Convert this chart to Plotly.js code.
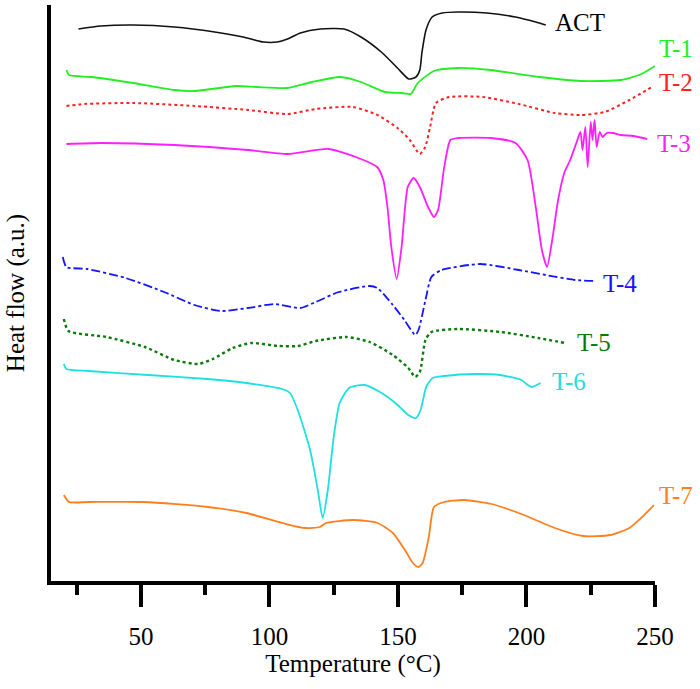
<!DOCTYPE html>
<html>
<head>
<meta charset="utf-8">
<script src="https://cdn.plot.ly/plotly-3.0.1.min.js"></script>
<style>html,body{margin:0;padding:0;background:#fff;}#chart{width:700px;height:689px;}</style>
</head>
<body>
<div id="chart"></div>
<script>
// DSC thermograms: temperature (°C) vs heat flow (a.u.), curves stacked vertically
const actT = [25.7,34.4,47,63,78.7,89.7,97.6,103,107,112,119.8,129,135.6,143.5,149.8,154.2,157,158.5,159.3,160.9,163.3,167.2,173.5,184.6,195.7,203.6,207.5];
const actH = [552,555,556,554,549,544,539,539,542,548,552,552,544,529,513,502,504,511,528,551,564,568,569,568,564,559,556];

const t1T = [21,22,31,47,63,71,87,95,107,116.6,127.7,135.6,145,151.4,155,157.7,164,173.5,186,205,221,236.8,244.7,250];
const t1H = [511,506,504,498,491,490,495,494,493,499,504,499,489,488,487,498,510,513,511,504,500,501,507,515];

const t2T = [21,28,47,71,91.7,107,118,132.4,142,149.8,154.6,158.5,160.6,162.5,164.8,170,183,197,211,221,230.4,240,249.4];
const t2H = [475,477,478,475,471,467,472,474,466,453,441,427,434,454,478,484,484,477,468,466,469,481,495];

const t3T = [21,34.4,63,91.7,107.1,123,135.6,141.9,144.3,145.9,147.4,149.5,151.4,153.8,156.1,158.5,161.7,164,165.6,168,170.4,173.5,186.2,195.7,200.4,203.6,206,208,210,212.3,214.7,217,219.4,221,221.8,222.9,223.8,225,225.7,226.5,227.3,228.5,229.6,231.2,233.6,236.8,241.5,247];
const t3H = [437,438,436,431,427,432,422,414,401,374,334,302,334,394,403,394,374,364,371,414,441,443,443,438,421,374,331,314,341,381,408,421,438,449,431,454,414,459,441,461,434,449,444,448,448,446,445,442];

const t4T = [19.6,21,29,44,59,70.8,81,91.6,102,112,118,127,139,142,148,152.5,156.7,158,160.7,163,167,182,197,207.5,219,226.8];
const t4H = [324,314,312,303,289,276,270,273,277,273,279,289,295,293,276,261,246,251,281,304,311,317,311,306,301,300];

const t5T = [20,21.8,36.6,51.5,63,72.3,78,85.7,93,103.5,111,118,130,139,148,154,156.7,158.5,160.7,163,173.4,190,204.5,215];
const t5H = [262,250,244,234,221,217,222,233,238,235,235,240,244,239,226,213,204,209,241,249,252,249,243,238];

const t6T = [20,21,29.6,52.7,75.8,91,105,108,111,115.8,118.8,120.7,122.7,125,127.3,131,137,143,149,154,157,158.8,161,163.5,168,180,189.6,198,200.5,202,204,205.5];
const t6H = [217,212,210,206,202,198,192,188,171,131,91,63,91,144,178,193,196,189,178,166,163,171,194,203,205,207,206,201,196,194,196,198];

const t7T = [20,22,29.6,51,76,91,106.5,114,119.6,122,132.7,142,148,152.7,155.8,158,159.6,162,164,168,175.8,186.5,199,211,222,232.7,240,245,249.6];
const t7H = [86,79,79,79,74,68,57,53,54,58,61,58,48,31,18,14,18,44,74,79,81,77,66,53,45,46,53,64,76];

const seriesNames = ['ACT','T-1','T-2','T-3','T-4','T-5','T-6','T-7'];
const xTickVals = [50,100,150,200,250];

// label anchor: [temperature, heat flow, pixel nudge to the right]
const curves = [
  {name:'ACT', x:actT, y:actH, color:'#111111', dash:'solid', width:1.6, lab:[209,559,3]},
  {name:'T-1', x:t1T, y:t1H, color:'#22ee22', dash:'solid', width:1.8, lab:[250,533,2]},
  {name:'T-2', x:t2T, y:t2H, color:'#ff2020', dash:'dot', width:2, lab:[250,499,2]},
  {name:'T-3', x:t3T, y:t3H, color:'#ff1eff', dash:'solid', width:1.8, lab:[250,438,0]},
  {name:'T-4', x:t4T, y:t4H, color:'#1414ff', dash:'dashdot', width:1.8, lab:[229,298,0]},
  {name:'T-5', x:t5T, y:t5H, color:'#0a7a0a', dash:'dot', width:2.4, lab:[218.7,239,0]},
  {name:'T-6', x:t6T, y:t6H, color:'#1ee0e0', dash:'solid', width:1.8, lab:[209,200,0]},
  {name:'T-7', x:t7T, y:t7H, color:'#ff7f1e', dash:'solid', width:1.8, lab:[250,86,2]}
];

const serif = 'Liberation Serif, Times New Roman, serif';
const fs = 25;

const traces = curves.map(c => ({
  type:'scatter', mode:'lines', name:c.name, x:c.x, y:c.y,
  line:{color:c.color, dash:c.dash, width:c.width, shape:'spline', smoothing:0.6},
  hoverinfo:'skip', cliponaxis:false
}));

const annotations = curves.map(c => ({
  x:c.lab[0], y:c.lab[1], xref:'x', yref:'y', text:c.name, showarrow:false,
  xanchor:'left', yanchor:'middle', xshift:c.lab[2],
  font:{family:serif, size:fs, color:c.name === 'ACT' ? '#000' : c.color}
}));

const layout = {
  width:700, height:689,
  margin:{l:51, r:45, t:5, b:108},
  paper_bgcolor:'#fff', plot_bgcolor:'#fff',
  showlegend:false,
  font:{family:serif, size:fs, color:'#000'},
  xaxis:{
    range:[15,250], showgrid:false, zeroline:false,
    showline:true, linecolor:'#000', linewidth:4,
    ticks:'outside', ticklen:22, tickwidth:4, tickcolor:'#000',
    tickvals:xTickVals, ticklabelstandoff:8,
    minor:{dtick:25, tick0:0, ticks:'outside', ticklen:10, tickwidth:4, tickcolor:'#000'},
    tickfont:{family:serif, size:fs, color:'#000'},
    title:{text:'Temperature (°C)', font:{family:serif, size:fs, color:'#000'}, standoff:4},
    automargin:false
  },
  yaxis:{
    range:[0,576], showgrid:false, zeroline:false,
    showline:true, linecolor:'#000', linewidth:4,
    showticklabels:false, ticks:'',
    title:{text:'Heat flow (a.u.)', font:{family:serif, size:fs, color:'#000'}, standoff:16},
    automargin:false
  },
  annotations:annotations
};

Plotly.newPlot('chart', traces, layout, {staticPlot:true, displayModeBar:false});
</script>
</body>
</html>
